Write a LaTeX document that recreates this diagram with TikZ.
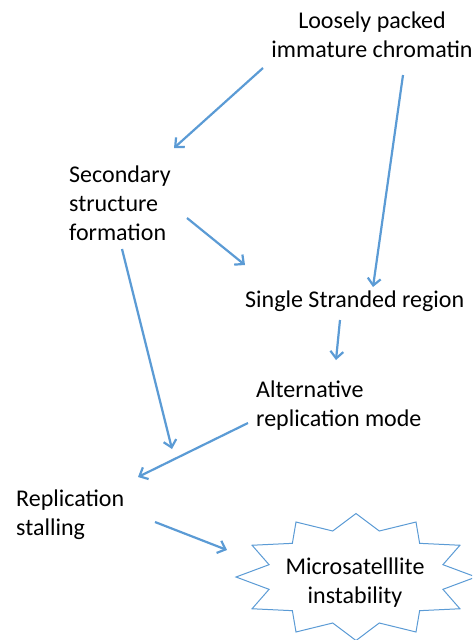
\documentclass[tikz,border=0pt]{standalone}
\usepackage{fontspec}
\setmainfont{Carlito}
\usetikzlibrary{arrows.meta}
\definecolor{flowblue}{HTML}{5B9BD5}
\tikzset{
  txt/.style={inner sep=0pt, font=\fontsize{24}{29}\selectfont},
  flow/.style={draw=flowblue, line width=2.2pt, -{Straight Barb[length=7pt,width=13pt]}},
  burst/.style={draw=flowblue, line width=1pt, fill=white}
}

\begin{document}
\begin{tikzpicture}[x=1pt,y=-1pt]
  \useasboundingbox (0,0) rectangle (472,640);
  \clip (0,0) rectangle (472,640);
  \node[txt, align=center] (loose) at (372,35) {Loosely packed\\immature chromatin};
  \node[txt, align=left, anchor=west] (sec) at (69,203) {Secondary\\structure\\formation};
  \node[txt, anchor=west] (ss) at (245,301) {Single Stranded region};
  \node[txt, align=left, anchor=west] (alt) at (256,406) {Alternative\\replication mode};
  \node[txt, align=left, anchor=west] (rep) at (16,515) {Replication\\stalling};
  \coordinate (mid) at (356,577);
  \draw[burst, shift={(mid)}] plot[samples at={0,...,23}]
    ({\x*15+90}:{120*(1-0.25*mod(\x,2))} and {63.5*(1-0.25*mod(\x,2))}) -- cycle;
  \node[txt, align=center] (mi) at (355,583) {Microsatelllite\\instability};
  \draw[flow] ([shift={(-109,33)}]loose.center) -- ([shift={(105,-55)}]sec.west);
  \draw[flow] ([shift={(31,40)}]loose.center) -- ([shift={(128,-14)}]ss.west);
  \draw[flow] ([shift={(118,15)}]sec.west) -- ([shift={(0,-36)}]ss.west);
  \draw[flow] ([shift={(53,46)}]sec.west) -- ([shift={(156,-66)}]rep.west);
  \draw[flow] ([shift={(95,19)}]ss.west) -- ([shift={(80,-46)}]alt.west);
  \draw[flow] ([shift={(-8,17)}]alt.west) -- ([shift={(122,-38)}]rep.west);
  \draw[flow] ([shift={(139,7)}]rep.west) -- ([shift={(-129,-27)}]mid);
\end{tikzpicture}
\end{document}
